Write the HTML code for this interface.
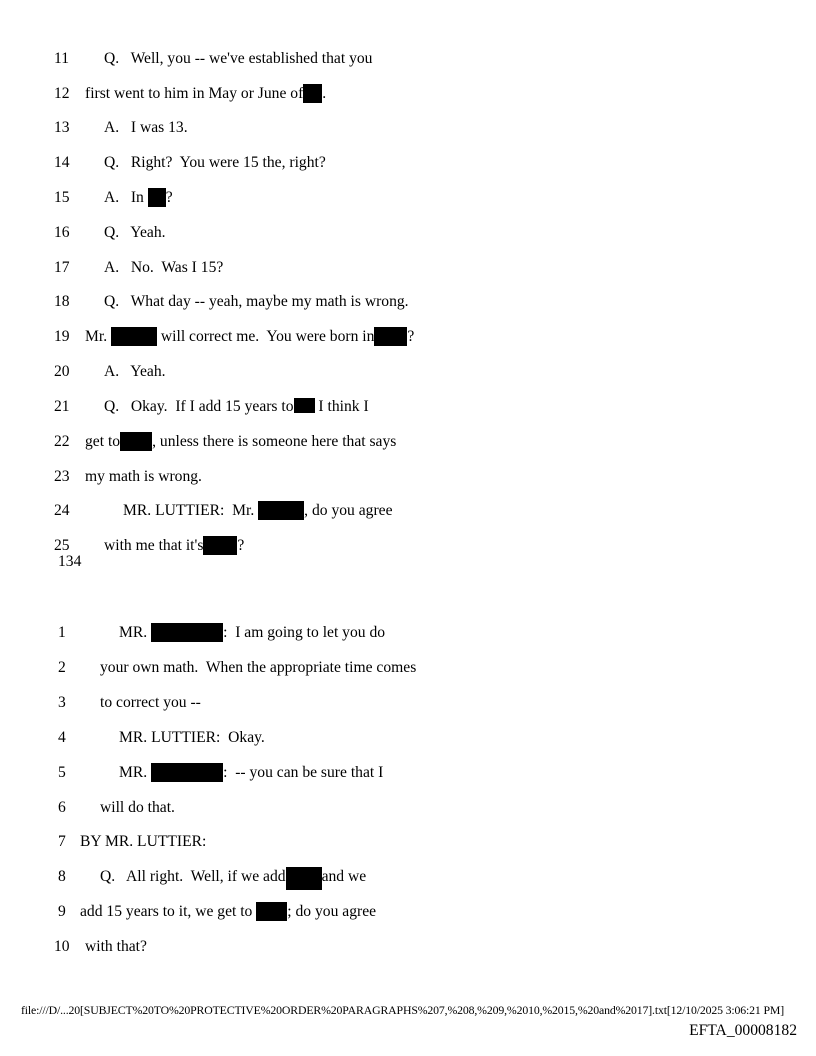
<!DOCTYPE html>
<html><head><meta charset="utf-8"><style>
body{margin:0;width:816px;height:1056px;background:#fff;position:relative;font-family:"Liberation Serif",serif;font-size:15.6px;color:#000;}
.l{position:absolute;white-space:pre;line-height:20px;}
b{display:inline-block;background:#000;height:19px;vertical-align:-5px;}
</style></head><body>
<div class="l" style="left:54px;top:49px">11</div><div class="l" style="left:104px;top:49px">Q.   Well, you -- we've established that you</div>
<div class="l" style="left:54px;top:84px">12</div><div class="l" style="left:85px;top:84px">first went to him in May or June of<b style="width:19px"></b>.</div>
<div class="l" style="left:54px;top:118px">13</div><div class="l" style="left:104px;top:118px">A.   I was 13.</div>
<div class="l" style="left:54px;top:153px">14</div><div class="l" style="left:104px;top:153px">Q.   Right?  You were 15 the, right?</div>
<div class="l" style="left:54px;top:188px">15</div><div class="l" style="left:104px;top:188px">A.   In <b style="width:18px"></b>?</div>
<div class="l" style="left:54px;top:223px">16</div><div class="l" style="left:104px;top:223px">Q.   Yeah.</div>
<div class="l" style="left:54px;top:258px">17</div><div class="l" style="left:104px;top:258px">A.   No.  Was I 15?</div>
<div class="l" style="left:54px;top:292px">18</div><div class="l" style="left:104px;top:292px">Q.   What day -- yeah, maybe my math is wrong.</div>
<div class="l" style="left:54px;top:327px">19</div><div class="l" style="left:85px;top:327px">Mr. <b style="width:46px"></b> will correct me.  You were born in<b style="width:33px"></b>?</div>
<div class="l" style="left:54px;top:362px">20</div><div class="l" style="left:104px;top:362px">A.   Yeah.</div>
<div class="l" style="left:54px;top:397px">21</div><div class="l" style="left:104px;top:397px">Q.   Okay.  If I add 15 years to<b style="width:21px;height:15px;vertical-align:-2px"></b> I think I</div>
<div class="l" style="left:54px;top:432px">22</div><div class="l" style="left:85px;top:432px">get to<b style="width:32px"></b>, unless there is someone here that says</div>
<div class="l" style="left:54px;top:467px">23</div><div class="l" style="left:85px;top:467px">my math is wrong.</div>
<div class="l" style="left:54px;top:501px">24</div><div class="l" style="left:123px;top:501px">MR. LUTTIER:  Mr. <b style="width:46px"></b>, do you agree</div>
<div class="l" style="left:54px;top:536px">25</div><div class="l" style="left:104px;top:536px">with me that it's<b style="width:34px"></b>?</div>
<div class="l" style="left:58px;top:552px">134</div>

<div class="l" style="left:58px;top:623px">1</div><div class="l" style="left:119px;top:623px">MR. <b style="width:72px"></b>:  I am going to let you do</div>
<div class="l" style="left:58px;top:658px">2</div><div class="l" style="left:100px;top:658px">your own math.  When the appropriate time comes</div>
<div class="l" style="left:58px;top:693px">3</div><div class="l" style="left:100px;top:693px">to correct you --</div>
<div class="l" style="left:58px;top:728px">4</div><div class="l" style="left:119px;top:728px">MR. LUTTIER:  Okay.</div>
<div class="l" style="left:58px;top:763px">5</div><div class="l" style="left:119px;top:763px">MR. <b style="width:72px"></b>:  -- you can be sure that I</div>
<div class="l" style="left:58px;top:798px">6</div><div class="l" style="left:100px;top:798px">will do that.</div>
<div class="l" style="left:58px;top:832px">7</div><div class="l" style="left:80px;top:832px">BY MR. LUTTIER:</div>
<div class="l" style="left:58px;top:867px">8</div><div class="l" style="left:100px;top:867px">Q.   All right.  Well, if we add<b style="width:36px;height:23px;vertical-align:-7px;margin:-2px 0"></b>and we</div>
<div class="l" style="left:58px;top:902px">9</div><div class="l" style="left:80px;top:902px">add 15 years to it, we get to <b style="width:31px"></b>; do you agree</div>
<div class="l" style="left:54px;top:937px">10</div><div class="l" style="left:85px;top:937px">with that?</div>

<div class="l" style="left:21px;top:1000px;font-size:11.8px;letter-spacing:-0.15px">file:///D/...20[SUBJECT%20TO%20PROTECTIVE%20ORDER%20PARAGRAPHS%207,%208,%209,%2010,%2015,%20and%2017].txt[12/10/2025 3:06:21 PM]</div>
<div class="l" style="right:19px;top:1021px;font-size:15.6px">EFTA_00008182</div>
</body></html>
